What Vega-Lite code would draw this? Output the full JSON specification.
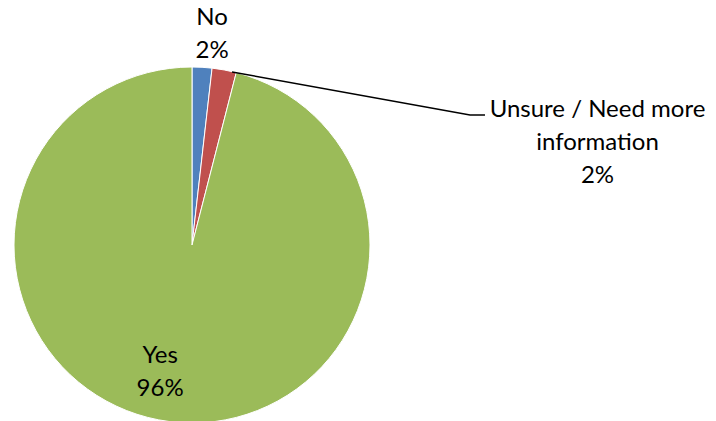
{
  "$schema": "https://vega.github.io/schema/vega-lite/v6.json",
  "width": 356,
  "height": 356,
  "autosize": {"type": "none"},
  "padding": {"left": 14, "top": 67, "right": 346, "bottom": 0},
  "background": "white",
  "config": {"view": {"stroke": null}, "font": "Lato"},
  "datasets": {
    "slices": [
      {"category": "No", "value": 1.8, "label": "No\n2%"},
      {"category": "Unsure / Need more information", "value": 2.2, "label": "Unsure / Need more\ninformation\n2%"},
      {"category": "Yes", "value": 96, "label": "Yes\n96%"}
    ],
    "leader": [
      {"lx": 0.225, "ly": 0.972},
      {"lx": 1.562, "ly": 0.73},
      {"lx": 1.646, "ly": 0.73}
    ]
  },
  "data": {"name": "slices"},
  "layer": [
    {
      "mark": {"type": "arc", "stroke": "white", "strokeWidth": 1},
      "encoding": {
        "theta": {"field": "value", "type": "quantitative", "stack": true},
        "color": {
          "field": "category",
          "type": "nominal",
          "scale": {"domain": ["No", "Unsure / Need more information", "Yes"], "range": ["#4F81BD", "#C0504D", "#9BBB59"]},
          "legend": null
        }
      }
    },
    {
      "mark": {"type": "text", "radius": 214, "dx": 8, "dy": -13, "fontSize": 24, "lineHeight": 33, "lineBreak": "\n", "color": "black", "baseline": "middle", "align": "center"},
      "encoding": {
        "theta": {"field": "value", "type": "quantitative", "stack": true},
        "text": {"condition": {"test": "datum.category === 'No'", "field": "label", "type": "nominal"}, "value": ""}
      }
    },
    {
      "mark": {"type": "text", "radius": 240, "dx": 362, "dy": 101, "fontSize": 24, "lineHeight": 33, "lineBreak": "\n", "color": "black", "baseline": "middle", "align": "center"},
      "encoding": {
        "theta": {"field": "value", "type": "quantitative", "stack": true},
        "text": {"condition": {"test": "datum.category === 'Unsure / Need more information'", "field": "label", "type": "nominal"}, "value": ""}
      }
    },
    {
      "mark": {"type": "text", "radius": 127, "dx": -16, "dy": -15, "fontSize": 24, "lineHeight": 33, "lineBreak": "\n", "color": "black", "baseline": "middle", "align": "center"},
      "encoding": {
        "theta": {"field": "value", "type": "quantitative", "stack": true},
        "text": {"condition": {"test": "datum.category === 'Yes'", "field": "label", "type": "nominal"}, "value": ""}
      }
    },
    {
      "data": {"name": "leader"},
      "mark": {"type": "line", "color": "black", "strokeWidth": 1.5},
      "encoding": {
        "x": {"field": "lx", "type": "quantitative", "scale": {"domain": [-1, 1]}, "axis": null},
        "y": {"field": "ly", "type": "quantitative", "scale": {"domain": [-1, 1]}, "axis": null}
      }
    }
  ]
}
